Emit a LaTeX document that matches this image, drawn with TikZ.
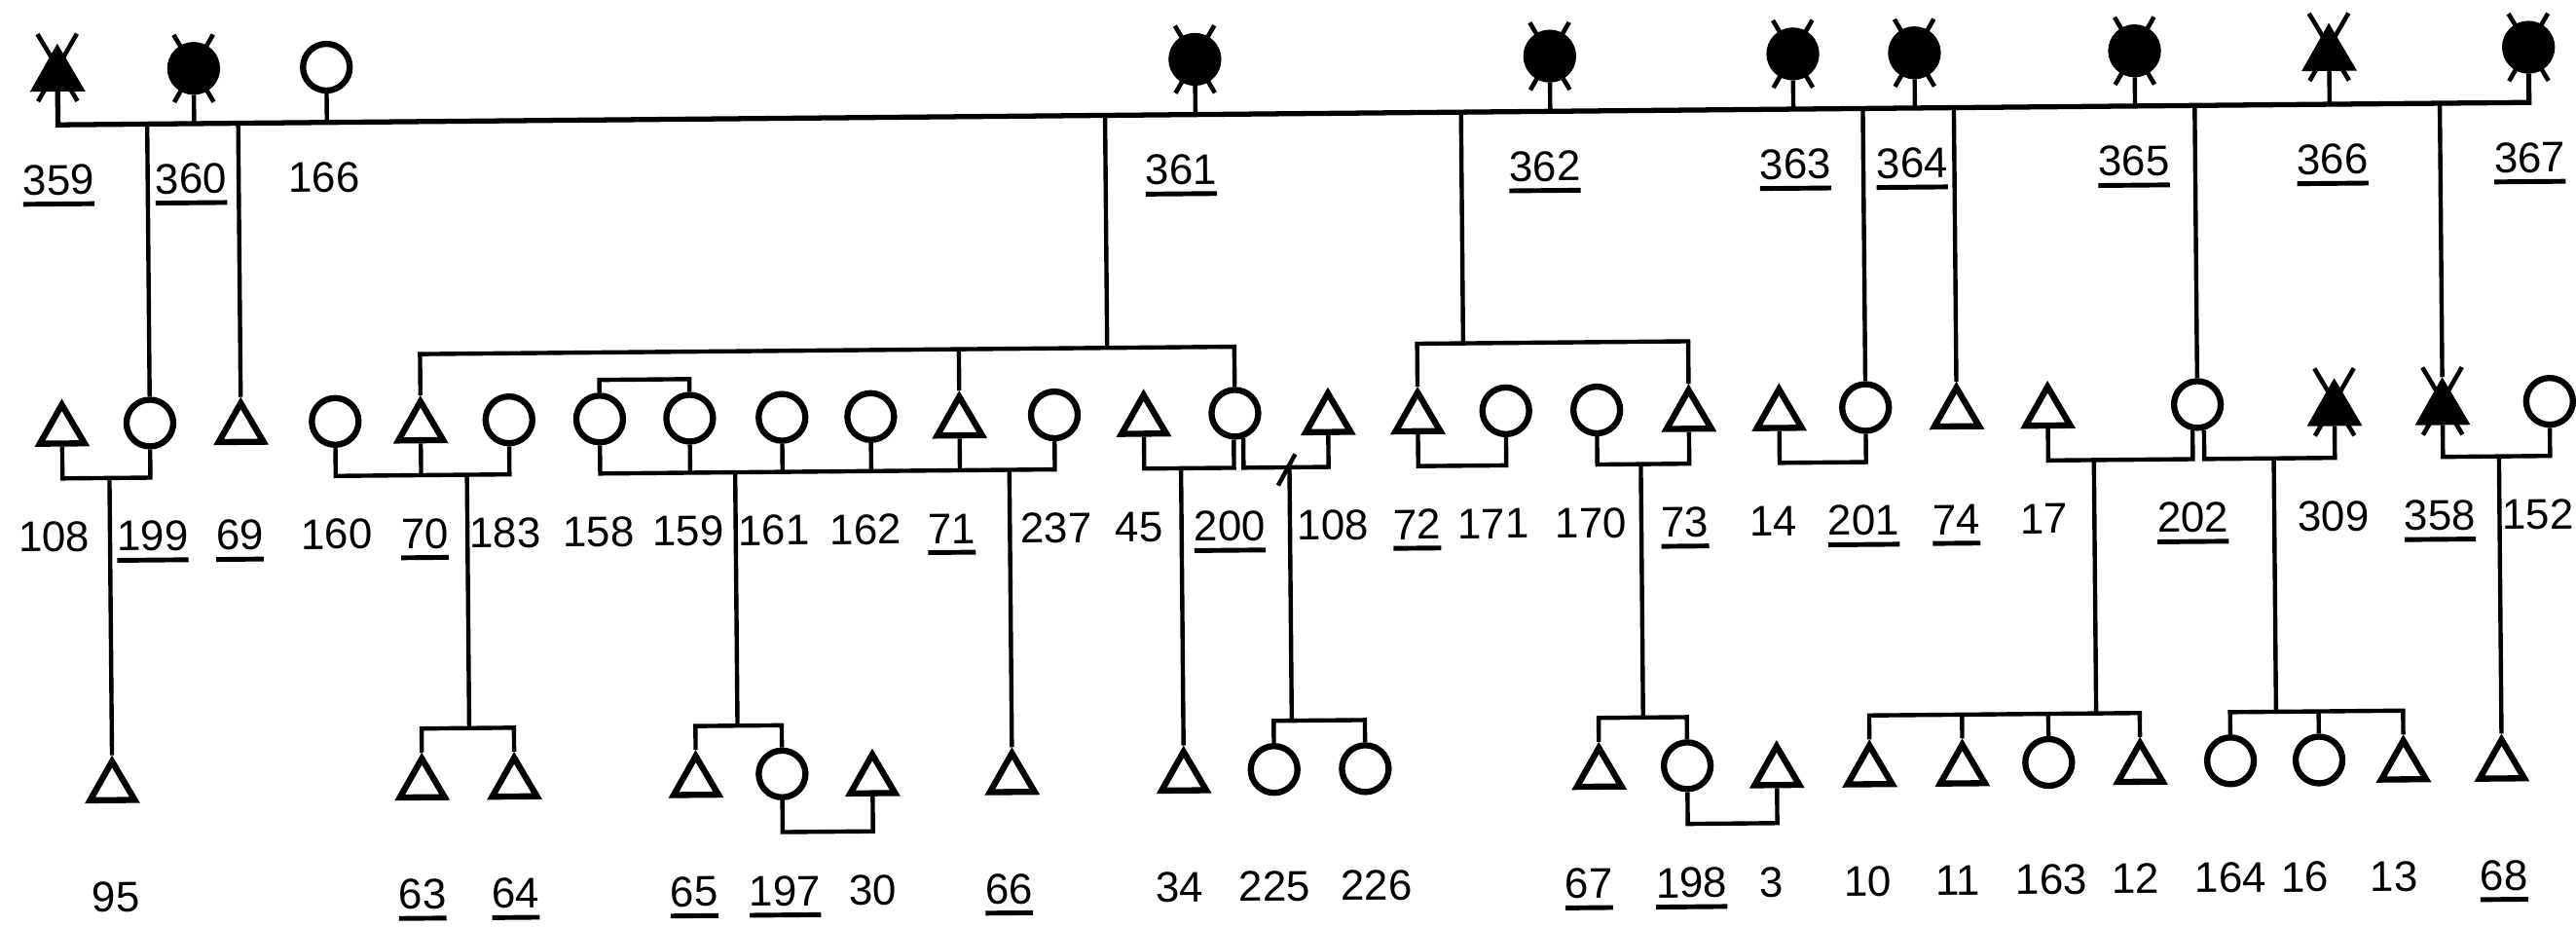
\documentclass[tikz,border=0pt]{standalone}
\usepackage{fontspec}
\setmainfont{Liberation Sans}
\usetikzlibrary{shapes.geometric,calc}
\newcommand{\unum}[1]{\vtop{\hbox{#1}\kern1.9pt\hrule height1.4pt}}

\begin{document}
\begin{tikzpicture}[x=0.016875cm, y=-0.016875cm, line width=1.25pt,
  female/.style={circle, draw, line width=1.8pt, minimum size=0.48cm, inner sep=0pt},
  male/.style={regular polygon, regular polygon sides=3, draw, line width=1.8pt,
    minimum size=0.53cm, inner sep=0pt},
  affected/.style={fill=black},
  xmark/.style={line width=1.3pt},
  num/.style={anchor=base, inner sep=0pt, font=\fontsize{12.5}{15}\selectfont}
]
\path[use as bounding box, fill=white] (0,0) rectangle (1568,563.6);

\begin{scope}[transform canvas={rotate=0.52}]

% Generation I
\node[male, affected] (p359) at (34.6,46.3) {};
\node[female, affected] (p360) at (117.5,42.7) {};
\node[female] (p166) at (198.3,42.7) {};
\node[female, affected] (p361) at (727,42.7) {};
\node[female, affected] (p362) at (943,42.7) {};
\node[female, affected] (p363) at (1091,42.7) {};
\node[female, affected] (p364) at (1165,42.7) {};
\node[female, affected] (p365) at (1299,42.7) {};
\node[male, affected] (p366) at (1417.4,46.3) {};
\node[female, affected] (p367) at (1538.8,42.7) {};

% Generation II
\node[male] (p108a) at (35.4,262.4) {};
\node[female] (p199) at (88.9,258.3) {};
\node[male] (p69) at (144.3,262.4) {};
\node[female] (p160) at (201.7,258.3) {};
\node[male] (p70) at (253.7,262.4) {};
\node[female] (p183) at (307.5,258.3) {};
\node[female] (p158) at (362.7,258.3) {};
\node[female] (p159) at (417.5,258.3) {};
\node[female] (p161) at (473.7,258.3) {};
\node[female] (p162) at (527.7,258.3) {};
\node[male] (p71) at (581.7,262.4) {};
\node[female] (p237) at (639.5,258.3) {};
\node[male] (p45) at (693.9,262.4) {};
\node[female] (p200) at (749.4,258.3) {};
\node[male] (p108b) at (806.1,262.4) {};
\node[male] (p72) at (860.7,262.4) {};
\node[female] (p171) at (914.3,258.3) {};
\node[female] (p170) at (969.7,258.3) {};
\node[male] (p73) at (1025.7,262.4) {};
\node[male] (p14) at (1080.7,262.4) {};
\node[female] (p201) at (1133.3,258.3) {};
\node[male] (p74) at (1188.7,262.4) {};
\node[male] (p17) at (1244.2,262.4) {};
\node[female] (p202) at (1335.3,258.3) {};
\node[male, affected] (p309) at (1418.7,262.4) {};
\node[male, affected] (p358) at (1484.5,262.4) {};
\node[female] (p152) at (1549.7,258.3) {};

% Generation III
\node[male] (p95) at (64,479.7) {};
\node[male] (p63) at (252.6,479.7) {};
\node[male] (p64) at (308.8,479.7) {};
\node[male] (p65) at (419.3,479.7) {};
\node[female] (p197) at (471.8,475.3) {};
\node[male] (p30) at (526.8,479.7) {};
\node[male] (p66) at (611.8,479.7) {};
\node[male] (p34) at (716.3,479.7) {};
\node[female] (p225) at (771.3,475.3) {};
\node[female] (p226) at (826.8,475.3) {};
\node[male] (p67) at (969.1,479.7) {};
\node[female] (p198) at (1022.8,475.3) {};
\node[male] (p3) at (1077.3,479.7) {};
\node[male] (p10) at (1133.8,479.7) {};
\node[male] (p11) at (1190.3,479.7) {};
\node[female] (p163) at (1242.8,475.3) {};
\node[male] (p12) at (1298.5,479.7) {};
\node[female] (p164) at (1353.5,475.3) {};
\node[female] (p16) at (1407.4,475.3) {};
\node[male] (p13) at (1458.8,479.7) {};
\node[male] (p68) at (1518.6,479.7) {};

% crosses over the deceased
\foreach \n in {p359,p360,p361,p362,p363,p364,p365,p366,p367,p309,p358}
  \draw[xmark] ($(\n.north)!0.5!(\n.south)$) +(-12,-20.5) -- +(12,20.5) +(12,-20.5) -- +(-12,20.5);

% Labels
\foreach \x/\n/\u [count=\i] in {34.7/359/1, 115.4/360/1, 196.4/166/0, 718/361/1,
    939.4/362/1, 1092/363/1, 1163/364/1, 1298/365/1, 1419/366/1, 1539/367/1}
  \node[num] (a\i) at (\x,118.8) {\ifnum\u=1 \unum{\n}\else\n\fi};
\foreach \x/\n/\u [count=\i] in {30/108/0, 90/199/1, 143/69/1, 202/160/0, 255.6/70/1,
    304.5/183/0, 361.5/158/0, 416/159/0, 468/161/0, 524/162/0, 576.4/71/1, 640/237/0,
    690.5/45/0, 745.7/200/1, 808.5/108/0, 859.7/72/1, 906/171/0, 965.5/170/0,
    1022.8/73/1, 1076.7/14/0, 1131.6/201/1, 1188/74/1, 1241.4/17/0, 1332/202/1,
    1417.4/309/0, 1482.3/358/1, 1542/152/0}
  \node[num] (b\i) at (\x,336) {\ifnum\u=1 \unum{\n}\else\n\fi};
\foreach \x/\n/\u [count=\i] in {65.6/95/0, 252.3/63/1, 309/64/1, 417.7/65/1, 473/197/1,
    526.4/30/0, 609.3/66/1, 713/34/0, 771/225/0, 832.9/226/0, 962.4/67/1, 1024.8/198/1,
    1073.6/3/0, 1132/10/0, 1187/11/0, 1244/163/0, 1295/12/0, 1353/164/0, 1398/16/0,
    1452.5/13/0, 1519.4/68/1}
  \node[num] (c\i) at (\x,555.5) {\ifnum\u=1 \unum{\n}\else\n\fi};

% Lines of descent
\coordinate (gIl) at (34.6,76.3);
\coordinate (gIr) at (1538.8,76.3);
\draw[line width=1.5pt] (p359.south) -- (gIl) -- (gIr) -- (p367.south);
\foreach \n in {p360,p166,p361,p362,p363,p364,p365,p366}
  \draw (\n.south) -- (\n.south |- gIl);
\foreach \n in {p199,p69,p201,p74,p202,p358}
  \draw (\n.north |- gIl) -- (\n.north);

\coordinate (s361) at (672,217.8);
\coordinate (s362) at (888.7,217);
\draw (s361 |- gIl) -- (s361);
\draw (s362 |- gIl) -- (s362);
\draw (p70.north) |- (s361) -| (p200.north);
\draw (p71.north) -- (p71.north |- s361);
\draw (p72.north) |- (s362) -| (p73.north);
\coordinate (t158) at (390,234.5);
\draw (p158.north) |- (t158) -| (p159.north);

% Marriages
\coordinate (m108) at (64,291.5);
\draw (p108a.south) |- (m108) -| (p199.south);
\draw (m108) -- (p95.north);

\coordinate (m160) at (281.6,291.5);
\draw (p160.south) |- (m160) -| (p183.south);
\draw (p70.south) -- (p70.south |- m160);
\coordinate (s63) at (281.6,445.7);
\draw (m160) -- (s63);
\draw (p63.north) |- (s63) -| (p64.north);

\coordinate (m158) at (444.9,291.5);
\draw (p158.south) |- (m158) -| (p237.south);
\foreach \n in {p159,p161,p162,p71}
  \draw (\n.south) -- (\n.south |- m158);
\draw (p66.north) -- (p66.north |- m158);
\coordinate (s65) at (444.9,445.7);
\draw (m158) -- (s65);
\draw (p65.north) |- (s65) -| (p197.north);
\coordinate (m197) at (499,510.7);
\draw (p197.south) |- (m197) -| (p30.south);

\coordinate (m45) at (716.3,291.5);
\draw (p45.south) |- (m45) -| (p200.267);
\draw (m45) -- (p34.north);

\coordinate (m200) at (782.3,291.5);
\draw (p200.288) |- (m200) -| (p108b.south);
\draw ([shift={(-7,11)}]m200) -- ([shift={(3.6,-8)}]m200);
\coordinate (s225) at (782.3,445.7);
\draw (m200) -- (s225);
\draw (p225.north) |- (s225) -| (p226.north);

\coordinate (m72) at (888,291.5);
\draw (p72.south) |- (m72) -| (p171.south);
\coordinate (m170) at (996.2,291.5);
\draw (p170.south) |- (m170) -| (p73.south);
\coordinate (s67) at (996.2,445.7);
\draw (m170) -- (s67);
\draw (p67.north) |- (s67) -| (p198.north);
\coordinate (m198) at (1050,510.7);
\draw (p198.south) |- (m198) -| (p3.south);

\coordinate (m14) at (1107,291.5);
\draw (p14.south) |- (m14) -| (p201.south);

\coordinate (m17) at (1272,291.5);
\draw (p17.south) |- (m17) -| (p202.259);
\coordinate (s10) at (1272,445.7);
\draw (m17) -- (s10);
\draw (p10.north) |- (s10) -| (p12.north);
\foreach \n in {p11,p163}
  \draw (\n.north) -- (\n.north |- s10);

\coordinate (m202) at (1381.5,291.5);
\draw (p202.284) |- (m202) -| (p309.south);
\coordinate (s164) at (1381.5,445.7);
\draw (m202) -- (s164);
\draw (p164.north) |- (s164) -| (p13.north);
\draw (p16.north) -- (p16.north |- s164);

\coordinate (m358) at (1518.6,291.5);
\draw (p358.south) |- (m358) -| (p152.south);
\draw (m358) -- (p68.north);

\end{scope}
\end{tikzpicture}
\end{document}
